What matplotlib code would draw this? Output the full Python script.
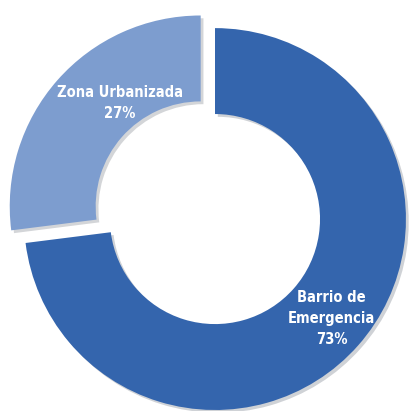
import matplotlib
matplotlib.use("Agg")
import matplotlib.pyplot as plt
import matplotlib.patheffects as pe

# data
categories = ["Barrio de\nEmergencia", "Zona Urbanizada"]
shares = [73, 27]
colors = ["#3465ad", "#7d9dcf"]
explode = [0, 0.1]

fig = plt.figure(figsize=(4.09, 4.11), dpi=100)
ax = fig.add_axes([0, 0, 1, 1])

wedges, _ = ax.pie(shares, colors=colors, explode=explode, startangle=90,
                   counterclock=False, radius=1,
                   wedgeprops=dict(width=0.45, edgecolor="none"))
for w in wedges:
    w.set_path_effects([pe.SimplePatchShadow(offset=(2, -2), alpha=0.2),
                        pe.Normal()])

# labels in a narrow bold face, white on the slices
font = dict(family=["DejaVu Sans"], fontstretch="condensed",
            fontweight="bold", color="white", ha="center", va="center",
            fontsize=10.5, linespacing=1.5)
ax.text(0.61, -0.52, "%s\n%d%%" % (categories[0], shares[0]), **font)
ax.text(-0.50, 0.61, "%s\n%d%%" % (categories[1], shares[1]), **font)

ax.set_xlim(-1.126, 1.016)
ax.set_ylim(-1.005, 1.147)
ax.set_aspect("equal")
ax.axis("off")

fig.savefig("out.png", dpi=100, facecolor="white")
